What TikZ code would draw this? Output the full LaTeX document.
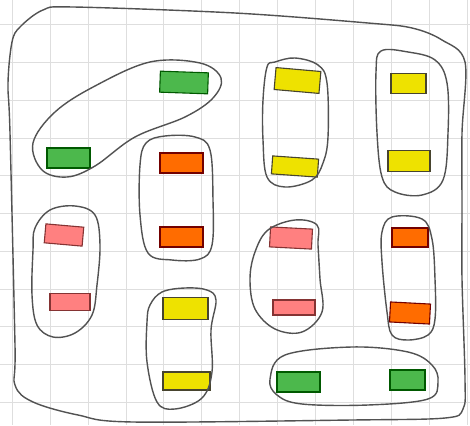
\documentclass[tikz,border=0pt]{standalone}
\begin{document}
\begin{tikzpicture}[x=1pt,y=-1pt,
  loop/.style={draw=black!68,line width=1.4pt,line cap=round,line join=round},
  gridline/.style={draw=black!13,line width=0.7pt},
  bx/.style={rectangle,inner sep=0pt,line width=1.1pt},
  grn/.style={bx,fill=green!60!black!70,draw=green!35!black},
  org/.style={bx,fill=orange!85!red,draw=red!45!black},
  ylw/.style={bx,fill=yellow!85!olive,draw=black!65!olive},
  pnk/.style={bx,fill=pink!55!red!85,draw=red!40!black!80}]
\useasboundingbox (0,0) rectangle (470,425);
\fill[white] (0,0) rectangle (470,425);
% graph paper
\foreach \gx in {12,50,88,126,163,201,239,277,315,353,391,429,467}
  \draw[gridline] (\gx,0) -- (\gx,425);
\foreach \gy in {24,62,100,138,175,213,251,289,326,364,402}
  \draw[gridline] (0,\gy) -- (470,\gy);
% coloured bars
\node[grn,minimum width=48pt,minimum height=21pt,rotate=-2] (g1) at (184,82.5) {};
\node[grn,minimum width=43pt,minimum height=20pt] (g2) at (68.5,158) {};
\node[org,minimum width=43pt,minimum height=20pt] (o1) at (181.5,163) {};
\node[ylw,minimum width=45pt,minimum height=22pt,rotate=-5] (y1) at (297.5,80.5) {};
\node[ylw,minimum width=46pt,minimum height=18pt,rotate=-4] (y2) at (295,166.5) {};
\node[ylw,minimum width=35pt,minimum height=20pt] (y3) at (408.5,83.5) {};
\node[ylw,minimum width=42pt,minimum height=21pt] (y4) at (409,161) {};
\node[pnk,minimum width=38pt,minimum height=19pt,rotate=-5] (p1) at (64,235) {};
\node[pnk,minimum width=40pt,minimum height=17pt] (p2) at (70,302) {};
\node[org,minimum width=43pt,minimum height=20pt] (o2) at (181.5,237) {};
\node[ylw,minimum width=45pt,minimum height=22pt] (y5) at (185.5,308.5) {};
\node[ylw,minimum width=47pt,minimum height=18pt] (y6) at (186.5,381) {};
\node[pnk,minimum width=42pt,minimum height=20pt,rotate=-3] (p3) at (291,238) {};
\node[pnk,minimum width=42pt,minimum height=15pt] (p4) at (294,307.5) {};
\node[org,minimum width=36pt,minimum height=19pt] (o3) at (410,237.5) {};
\node[org,minimum width=40pt,minimum height=20pt,rotate=-3] (o4) at (410,313) {};
\node[grn,minimum width=43pt,minimum height=20pt] (g3) at (298.5,382) {};
\node[grn,minimum width=35pt,minimum height=20pt] (g4) at (407.5,380) {};
% loops
\draw[loop] plot[smooth cycle,tension=0.6] coordinates {(221,78) (200,63) (150,62) (95,86) (55,112) (33,143) (42,170) (67,177) (95,166) (135,137) (185,117) (213,98)};
\draw[loop] plot[smooth cycle,tension=0.6] coordinates {(140,165) (146,143) (165,136) (195,137) (210,150) (213,200) (212,245) (200,259) (172,260) (148,253) (140,215)};
\draw[loop] plot[smooth cycle,tension=0.6] coordinates {(275,62) (295,58) (318,65) (327,83) (328,137) (323,163) (312,180) (285,187) (267,177) (263,140) (263,100) (267,67)};
\draw[loop] plot[smooth cycle,tension=0.6] coordinates {(381,51) (408,52) (435,60) (447,83) (448,133) (443,180) (422,195) (395,192) (382,177) (377,133) (376,72)};
\draw[loop] plot[smooth cycle,tension=0.6] coordinates {(35,228) (50,210) (75,206) (95,215) (100,245) (97,285) (92,315) (75,333) (53,337) (37,325) (32,295) (33,250)};
\draw[loop] plot[smooth cycle,tension=0.6] coordinates {(150,305) (162,292) (185,288) (207,290) (216,300) (211,330) (212,372) (202,398) (175,409) (157,402) (147,362) (147,322)};
\draw[loop] plot[smooth cycle,tension=0.6] coordinates {(268,230) (295,220) (317,225) (318,245) (320,279) (322,312) (302,332) (275,329) (255,309) (250,279) (255,252)};
\draw[loop] plot[smooth cycle,tension=0.6] coordinates {(392,217) (422,219) (432,239) (435,279) (435,319) (428,335) (408,340) (392,335) (387,312) (382,262) (382,232)};
\draw[loop] plot[smooth cycle,tension=0.6] coordinates {(270,379) (285,355) (352,347) (408,352) (432,365) (438,382) (428,399) (368,405) (302,404) (277,395)};
\draw[loop] plot[smooth cycle,tension=0.55] coordinates {(20,27) (43,10) (73,7) (235,13) (368,23) (412,28) (442,40) (465,62) (462,133) (462,207) (462,279) (465,379) (463,409) (445,418) (352,420) (133,422) (78,415) (33,402) (15,385) (15,345) (10,133) (8,83) (12,42)};
\end{tikzpicture}
\end{document}
